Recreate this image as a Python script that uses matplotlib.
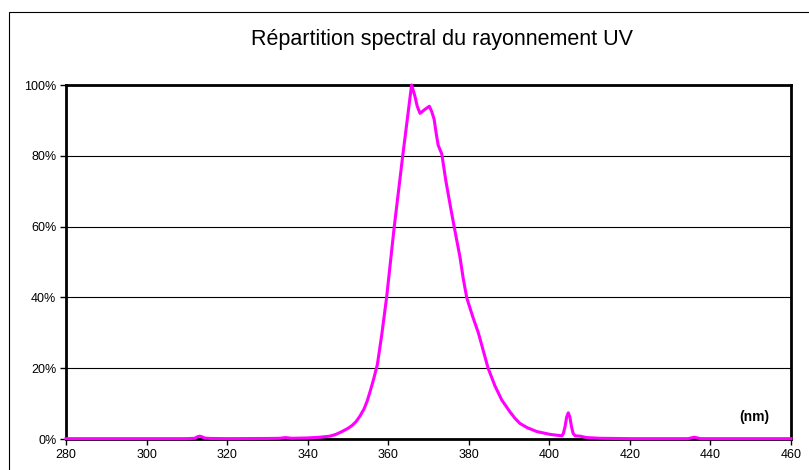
import matplotlib
matplotlib.use("Agg")
import matplotlib.pyplot as plt
from matplotlib.patches import Rectangle
from matplotlib.ticker import PercentFormatter, MultipleLocator

plt.rcParams["font.family"] = ["Liberation Sans", "DejaVu Sans"]

# Spectral distribution (nm, % of peak)
wavelength_nm = [
    280, 290, 300, 310, 312, 312.6, 313.2, 313.8, 314.5, 316, 320, 330, 333,
    334.5, 336, 340, 343, 345.5, 347, 348.5, 350, 351, 352, 353, 354, 354.8,
    355.6, 356.4, 357.3, 358.4, 359.6, 361.5, 363.6, 365.8, 366.6, 367.2,
    367.9, 369.1, 370.2, 370.8, 371.4, 371.9, 372.4, 373.3, 374.3, 375.6,
    376.6, 377.8, 378.6, 379.5, 381.0, 382.4, 384.8, 386.5, 388.2, 390.2,
    391.5, 392.7, 394.5, 396.9, 400.2, 403.1, 403.5, 403.9, 404.3, 404.7,
    405.1, 405.5, 405.9, 406.4, 407.6, 409.3, 412.6, 420, 430, 434.5, 435.4,
    436, 436.6, 437.5, 445, 460,
]
intensity_pct = [
    0.1, 0.1, 0.1, 0.1, 0.2, 0.6, 0.8, 0.6, 0.25, 0.15, 0.1, 0.15, 0.2,
    0.4, 0.2, 0.3, 0.5, 0.8, 1.3, 2.1, 3.0, 3.8, 4.9, 6.5, 8.5, 10.8,
    13.8, 17.0, 21, 29.5, 40, 60, 80, 100, 97, 94,
    92, 93.1, 94, 92.5, 90.3, 86.4, 83, 80.5, 73, 64.7,
    58.6, 51.5, 45.5, 39.9, 34.5, 29.9, 20, 15, 11, 7.7,
    5.8, 4.4, 3.2, 2.1, 1.3, 0.9, 1.6, 3.5, 6.2, 7.4,
    6.2, 3.5, 1.6, 0.9, 0.8, 0.4, 0.2, 0.1, 0.1, 0.1, 0.35,
    0.5, 0.35, 0.1, 0.1, 0.1,
]

figure = plt.figure(figsize=(8.09, 4.70), dpi=100)
figure.add_artist(
    Rectangle(
        (9 / 809, -0.1),
        1.2,
        1.1 - 12 / 470,
        transform=figure.transFigure,
        fill=False,
        edgecolor="black",
        linewidth=0.8,
    )
)
axis = figure.add_axes([66 / 809, 1 - 439 / 470, 725 / 809, 354 / 470])

axis.plot(wavelength_nm, intensity_pct, color="#ff00ff", linewidth=2.2,
          solid_joinstyle="round", clip_on=False, zorder=3)

axis.set_xlim(280, 460)
axis.set_ylim(0, 100)
axis.xaxis.set_major_locator(MultipleLocator(20))
axis.yaxis.set_major_locator(MultipleLocator(20))
axis.yaxis.set_major_formatter(PercentFormatter(decimals=0))
axis.grid(axis="y", color="black", linewidth=0.8)
axis.set_axisbelow(True)
for spine in axis.spines.values():
    spine.set_linewidth(2)
axis.tick_params(axis="both", direction="out", length=4, width=1,
                 labelsize=9, pad=3)

axis.text(450.8, 6.2, "(nm)", fontsize=10, fontweight="bold",
          ha="center", va="center")
figure.text(442 / 809, 1 - 40 / 470, "Répartition spectral du rayonnement UV",
            fontsize=15.5, ha="center", va="center")

figure.savefig("out.png", dpi=100)
